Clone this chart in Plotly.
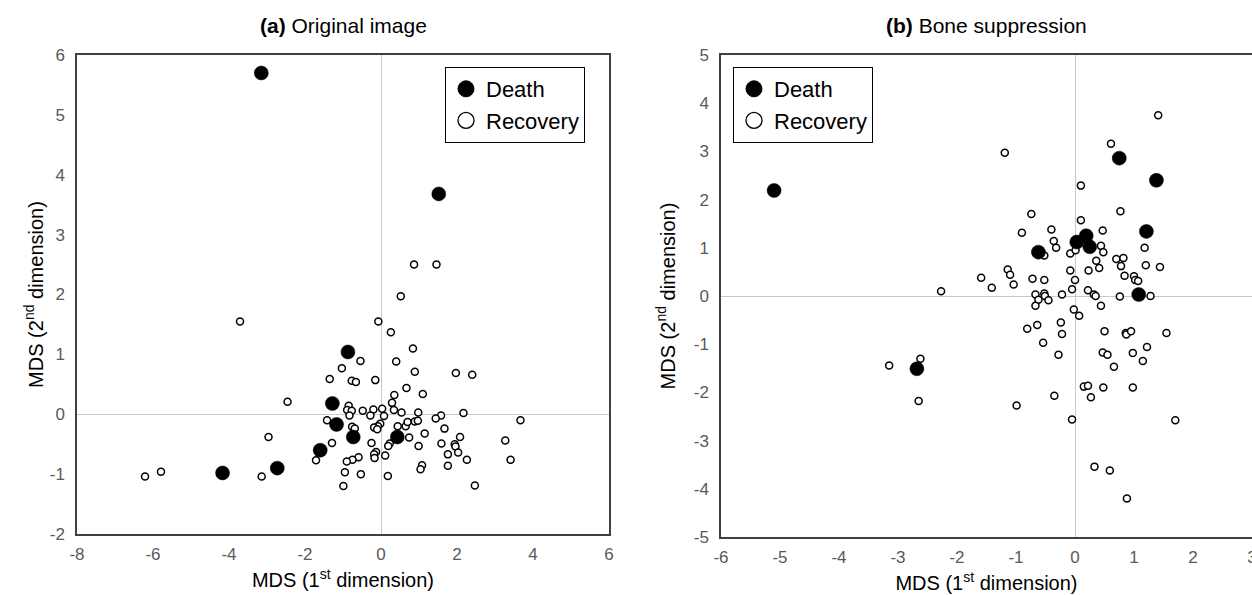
import plotly.graph_objects as go

# ---------------- Data: panel (a) Original image ----------------
a_death_x = [-3.15, 1.52, -0.87, -1.28, -1.17, -0.73, 0.43, -1.60, -2.73, -4.17]
a_death_y = [5.70, 3.68, 1.04, 0.18, -0.17, -0.38, -0.38, -0.60, -0.90, -0.98]

a_rec_x = [0.87, 1.46, 0.52, -3.71, -0.07, 0.26, 0.84, -0.54, 0.40, -1.03,
           0.89, 1.97, 2.40, -1.35, -0.77, -0.66, -0.15, 0.67, 1.10, 0.35,
           -2.46, 0.29, -0.85, -0.89, -0.77, -0.48, -0.20, 0.03, 0.34, 0.54,
           0.98, -0.83, -0.28, 0.08, 2.17, 1.58, 1.44, 3.67, -1.42, -0.02,
           -0.08, -0.18, -0.10, -0.76, -0.69, 0.44, 0.65, 0.70, 0.89, 0.97,
           1.67, 1.15, 2.08, -2.96, 0.74, -1.29, -0.25, 0.23, 0.19, 0.99,
           1.59, 1.94, 1.96, 3.27, -0.13, -0.18, -0.17, 0.11, 2.03, 1.76,
           -0.59, -0.75, -0.90, -1.71, 2.26, 3.41, 1.08, 1.04, 1.76, -0.95,
           -0.53, 0.18, -3.14, -5.79, -6.21, -0.99, 2.47]
a_rec_y = [2.50, 2.50, 1.97, 1.55, 1.55, 1.37, 1.10, 0.89, 0.88, 0.77,
           0.71, 0.69, 0.66, 0.59, 0.56, 0.54, 0.57, 0.44, 0.34, 0.32,
           0.21, 0.19, 0.14, 0.07, 0.06, 0.06, 0.08, 0.09, 0.07, 0.03,
           0.03, -0.02, -0.02, -0.03, 0.02, -0.02, -0.07, -0.10, -0.10, -0.16,
           -0.20, -0.22, -0.25, -0.21, -0.24, -0.20, -0.20, -0.13, -0.12, -0.11,
           -0.24, -0.32, -0.38, -0.38, -0.39, -0.48, -0.48, -0.49, -0.53, -0.53,
           -0.49, -0.50, -0.54, -0.44, -0.63, -0.67, -0.73, -0.69, -0.64, -0.67,
           -0.72, -0.76, -0.79, -0.77, -0.76, -0.76, -0.85, -0.92, -0.86, -0.97,
           -1.00, -1.03, -1.04, -0.96, -1.04, -1.20, -1.19]

# ---------------- Data: panel (b) Bone suppression ----------------
b_death_x = [-5.10, 0.75, 1.38, 1.21, -0.62, 0.03, 0.19, 0.25, 1.08, -2.68]
b_death_y = [2.19, 2.86, 2.40, 1.34, 0.91, 1.12, 1.25, 1.02, 0.03, -1.51]

b_rec_x = [1.41, 0.61, -1.19, 0.10, 0.77, -0.74, 0.10, -0.90, -0.40, 0.47,
           -0.36, -0.32, 0.44, 0.48, 1.18, -0.52, -0.08, 0.01, 0.36, 0.70,
           0.82, 0.78, 1.20, 1.44, 0.41, 0.23, -0.08, -1.14, -1.10, -1.59,
           -0.72, -0.52, 0.84, 1.00, 1.02, 1.07, 0.00, -1.04, -1.41, -2.27,
           -0.05, 0.22, -0.67, -0.52, -0.51, -0.22, 0.32, 0.35, 0.76, 1.28,
           -0.62, -0.45, -0.67, 0.44, -0.02, 0.07,
           -0.24, -0.64, -0.81, -0.22, 0.50, 0.86, 0.87, 0.95, 1.55, -0.54,
           -0.28, 0.47, 0.55, 0.98, 1.22, 1.15, 0.66, -3.15, -2.62, -2.65,
           0.15, 0.22, 0.48, 0.98, -0.35, 0.27, -0.99, -0.05, 1.70, 0.33,
           0.59, 0.88]
b_rec_y = [3.75, 3.16, 2.97, 2.29, 1.76, 1.70, 1.57, 1.31, 1.38, 1.36,
           1.14, 1.00, 1.04, 0.91, 1.00, 0.84, 0.88, 0.95, 0.73, 0.77,
           0.79, 0.62, 0.64, 0.60, 0.58, 0.53, 0.53, 0.55, 0.44, 0.38,
           0.36, 0.33, 0.42, 0.41, 0.33, 0.31, 0.33, 0.24, 0.17, 0.10,
           0.14, 0.12, 0.03, 0.05, 0.00, 0.03, 0.03, 0.00, -0.01, 0.00,
           -0.08, -0.09, -0.20, -0.20, -0.28, -0.41,
           -0.55, -0.60, -0.68, -0.79, -0.73, -0.77, -0.80, -0.73, -0.77, -0.97,
           -1.22, -1.17, -1.22, -1.18, -1.06, -1.35, -1.47, -1.44, -1.30, -2.18,
           -1.88, -1.86, -1.90, -1.90, -2.07, -2.10, -2.27, -2.56, -2.58, -3.54,
           -3.62, -4.20]

a_x_ticks = [-8, -6, -4, -2, 0, 2, 4, 6]
a_y_ticks = [-2, -1, 0, 1, 2, 3, 4, 5, 6]
b_x_ticks = [-6, -5, -4, -3, -2, -1, 0, 1, 2, 3]
b_y_ticks = [-5, -4, -3, -2, -1, 0, 1, 2, 3, 4, 5]

W, H = 1252, 595
FONT = "Liberation Sans, Arial, Helvetica, sans-serif"
BORDER = "#404040"
TICKC = "#595959"
ZEROC = "#C8C8C8"

fig = go.Figure()

def add_panel(xs_r, ys_r, xs_d, ys_d, xa, ya, legend):
    fig.add_trace(go.Scatter(x=xs_r, y=ys_r, mode="markers", name="Recovery",
                             xaxis=xa, yaxis=ya, showlegend=False,
                             marker=dict(size=7, color="white",
                                         line=dict(color="black", width=1.5))))
    fig.add_trace(go.Scatter(x=xs_d, y=ys_d, mode="markers", name="Death",
                             xaxis=xa, yaxis=ya, showlegend=False,
                             marker=dict(size=14, color="black",
                                         line=dict(color="black", width=0.5))))
    # legend entries
    fig.add_trace(go.Scatter(x=[None], y=[None], mode="markers", name="Death",
                             xaxis=xa, yaxis=ya, legend=legend,
                             marker=dict(size=16, color="black",
                                         line=dict(color="black", width=1))))
    fig.add_trace(go.Scatter(x=[None], y=[None], mode="markers", name="Recovery",
                             xaxis=xa, yaxis=ya, legend=legend,
                             marker=dict(size=16, color="white",
                                         line=dict(color="black", width=1.3))))

add_panel(a_rec_x, a_rec_y, a_death_x, a_death_y, "x", "y", "legend")
add_panel(b_rec_x, b_rec_y, b_death_x, b_death_y, "x2", "y2", "legend2")

def px_x(p):
    return p / W

def px_y(p):
    return 1 - p / H

def ticks(vals):
    # plain hyphen-minus labels, as in the reference
    return dict(tickvals=vals, ticktext=[str(v) for v in vals])

common_axis = dict(showgrid=False, zeroline=True, zerolinecolor=ZEROC,
                   zerolinewidth=1, showline=True, linecolor=BORDER,
                   linewidth=1.5, ticks="", automargin=False,
                   ticklabeloverflow="allow",
                   tickfont=dict(family=FONT, size=17, color=TICKC),
                   title_font=dict(family=FONT, size=20, color="black"))
x_extra = dict(ticklabelstandoff=4)
y_extra = dict(ticklabelstandoff=7)

fig.update_layout(
    width=W, height=H,
    margin=dict(l=0, r=0, t=0, b=0),
    paper_bgcolor="white", plot_bgcolor="white",
    font=dict(family=FONT, color="black"),
    xaxis=dict(domain=[px_x(77), px_x(609)], range=[-8, 6], **ticks(a_x_ticks),
               mirror=True, anchor="y",
               title=dict(text="MDS (1<sup>st</sup> dimension)", standoff=10),
               **common_axis, **x_extra),
    yaxis=dict(domain=[px_y(534), px_y(55)], range=[-2, 6], **ticks(a_y_ticks),
               mirror=True, anchor="x",
               title=dict(text="MDS (2<sup>nd</sup> dimension)", standoff=1),
               **common_axis, **y_extra),
    xaxis2=dict(domain=[px_x(721), 1.0], range=[-6, 3], **ticks(b_x_ticks),
                mirror=True, anchor="y2",
                title=dict(text="MDS (1<sup>st</sup> dimension)", standoff=10),
                **common_axis, **x_extra),
    yaxis2=dict(domain=[px_y(537), px_y(55)], range=[-5, 5], **ticks(b_y_ticks),
                mirror=False, anchor="x2",
                title=dict(text="MDS (2<sup>nd</sup> dimension)", standoff=13),
                **common_axis, **y_extra),
    legend=dict(x=px_x(445), y=px_y(67), xanchor="left", yanchor="top",
                bordercolor="black", borderwidth=1, bgcolor="white",
                font=dict(family=FONT, size=22, color="black"),
                tracegroupgap=0, itemwidth=30),
    legend2=dict(x=px_x(733), y=px_y(67), xanchor="left", yanchor="top",
                 bordercolor="black", borderwidth=1, bgcolor="white",
                 font=dict(family=FONT, size=22, color="black"),
                 tracegroupgap=0, itemwidth=30),
    annotations=[
        dict(text="<b>(a)</b> Original image", x=(px_x(77) + px_x(609)) / 2,
             y=px_y(26), xref="paper", yref="paper", showarrow=False,
             xanchor="center", yanchor="middle",
             font=dict(family=FONT, size=21, color="black")),
        dict(text="<b>(b)</b> Bone suppression", x=(px_x(721) + 1.0) / 2,
             y=px_y(26), xref="paper", yref="paper", showarrow=False,
             xanchor="center", yanchor="middle",
             font=dict(family=FONT, size=21, color="black")),
    ],
)

fig.write_html("out.html")
